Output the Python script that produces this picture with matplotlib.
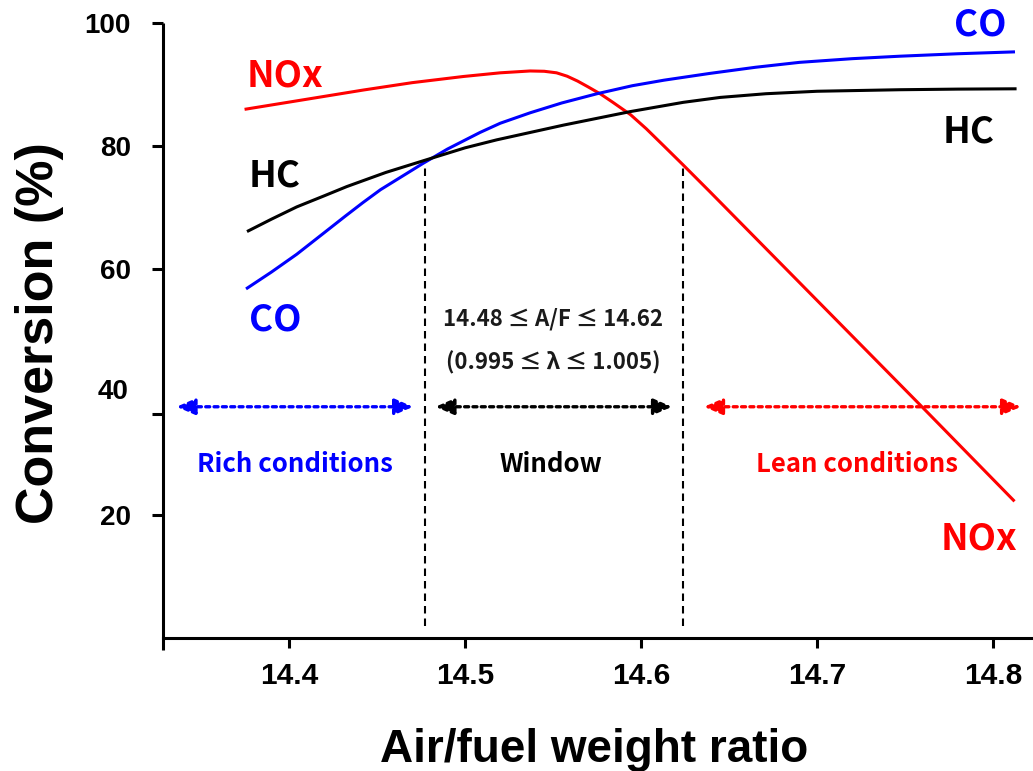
import numpy as np
import matplotlib.pyplot as plt

# catalyst conversion efficiency vs air/fuel ratio
nox_af = [14.3756, 14.41, 14.4422, 14.47, 14.499, 14.52, 14.537, 14.545, 14.552, 14.558,
          14.564, 14.570, 14.577, 14.584, 14.594, 14.603, 14.613, 14.624, 14.639, 14.690,
          14.762, 14.8116]
nox_conv = [86.0, 87.6, 89.1, 90.3, 91.3, 91.9, 92.2, 92.15, 91.9, 91.35,
            90.55, 89.6, 88.45, 87.1, 85.1, 82.8, 80.0, 76.9, 72.6, 57.8,
            36.9, 22.4]

co_af = [14.3763, 14.39, 14.4044, 14.42, 14.432, 14.442, 14.452, 14.4763, 14.49, 14.5085,
         14.52, 14.537, 14.555, 14.575, 14.595, 14.613, 14.639, 14.665, 14.690, 14.72,
         14.747, 14.78, 14.8116]
co_conv = [56.9, 59.5, 62.4, 65.9, 68.6, 70.8, 72.9, 77.2, 79.5, 82.2,
           83.7, 85.4, 87.0, 88.5, 89.8, 90.7, 91.8, 92.8, 93.6, 94.2,
           94.6, 95.0, 95.3]

hc_af = [14.3769, 14.39, 14.4044, 14.42, 14.4328, 14.455, 14.4763, 14.50, 14.518, 14.556,
         14.594, 14.624, 14.645, 14.671, 14.70, 14.747, 14.78, 14.8125]
hc_conv = [66.2, 68.1, 70.1, 71.9, 73.4, 75.7, 77.6, 79.7, 81.0, 83.4,
           85.6, 87.1, 87.9, 88.5, 88.9, 89.15, 89.25, 89.3]

window_lo, window_hi = 14.477, 14.624
yticks = [20, 36.4, 60, 80, 100]
yticklabels = ['20', '', '60', '80', '100']
xticks = [14.4, 14.5, 14.6, 14.7, 14.8]

RED = '#ff0000'
BLUE = '#0000ff'
lab_font = ['Noto Sans CJK KR', 'DejaVu Sans']

fig = plt.figure(figsize=(10.33, 7.71), dpi=100)
ax = fig.add_axes([163 / 1033, 1 - 638 / 771, 870 / 1033, 615 / 771])
ax.set_xlim(14.3284, 14.8227)
ax.set_ylim(0, 100)

ax.plot(nox_af, nox_conv, color=RED, lw=2.2, solid_joinstyle='round')
ax.plot(co_af, co_conv, color=BLUE, lw=2.2, solid_joinstyle='round')
ax.plot(hc_af, hc_conv, color='black', lw=2.2, solid_joinstyle='round')

# operating window boundaries
for xw in (window_lo, window_hi):
    ax.plot([xw, xw], [2, 76.6], color='black', lw=1.5, ls=(0, (3.6, 2.4)))

# axes styling
for s in ('top', 'right'):
    ax.spines[s].set_visible(False)
ax.spines['left'].set_linewidth(2.2)
ax.spines['bottom'].set_linewidth(2.2)
ax.spines['left'].set_bounds(-2, 100)
ax.spines['left'].set_capstyle('butt')

ax.set_yticks(yticks)
ax.set_yticklabels(yticklabels)
ax.set_xticks(xticks)
ax.set_xticklabels([f'{v:.1f}' for v in xticks])
ax.tick_params(axis='y', direction='out', length=8, width=2.2, pad=15,
               labelsize=20, labelcolor='black')
ax.tick_params(axis='x', direction='out', length=7, width=2.2, pad=10,
               labelsize=21.5)
for t in ax.get_xticklabels() + ax.get_yticklabels():
    t.set_fontfamily('Liberation Sans')
    t.set_fontweight('bold')
ax.text(-(163 - 129) / 870, 40, '40', transform=ax.get_yaxis_transform(),
        ha='right', va='center', fontsize=20, fontweight='bold', family='Liberation Sans')

fig.text(594 / 1033, 1 - 762 / 771, 'Air/fuel weight ratio', ha='center', va='baseline',
         fontsize=33, fontweight='bold', family='Liberation Sans')
fig.text(53 / 1033, 1 - 333 / 771, 'Conversion (%)', rotation=90, rotation_mode='anchor',
         ha='center', va='baseline', fontsize=37.5, fontweight='bold', family='Liberation Sans')

# curve labels
curve_labels = [
    ('NOx', 14.3977, 91.4, RED),
    ('HC', 14.3918, 75.2, 'black'),
    ('CO', 14.392, 51.7, BLUE),
    ('CO', 14.7926, 99.7, BLUE),
    ('HC', 14.7864, 82.3, 'black'),
    ('NOx', 14.792, 16.1, RED),
]
for txt, xl, yl, c in curve_labels:
    ax.text(xl, yl, txt, color=c, ha='center', va='center', fontsize=26.5,
            fontweight='bold', family=lab_font)

ax.text(14.55, 51.9, '14.48 ≤ A/F ≤ 14.62', ha='center', va='center', fontsize=16,
        fontweight='bold', color='#1a1a1a', family=lab_font)
ax.text(14.55, 44.7, '(0.995 ≤ λ ≤ 1.005)', ha='center', va='center', fontsize=16,
        fontweight='bold', color='#1a1a1a', family=lab_font)

# region arrows
arrow_y = 37.6
regions = [
    (14.3361, 14.4705, BLUE, 'Rich conditions', 14.4034),
    (14.4832, 14.6176, 'black', 'Window', 14.549),
    (14.6358, 14.8159, RED, 'Lean conditions', 14.7227),
]
for x0, x1, c, name, xc in regions:
    ax.annotate('', xy=(x1, arrow_y), xytext=(x0, arrow_y),
                arrowprops=dict(arrowstyle='<|-|>,head_length=1.1,head_width=0.48',
                                color=c, lw=2.4, ls=(0, (1.2, 1.3)),
                                shrinkA=0, shrinkB=0))
    ax.text(xc, 28.2, name, color=c, ha='center', va='center', fontsize=18.5,
            fontweight='bold', family=lab_font)

fig.savefig('out.png', dpi=100)
